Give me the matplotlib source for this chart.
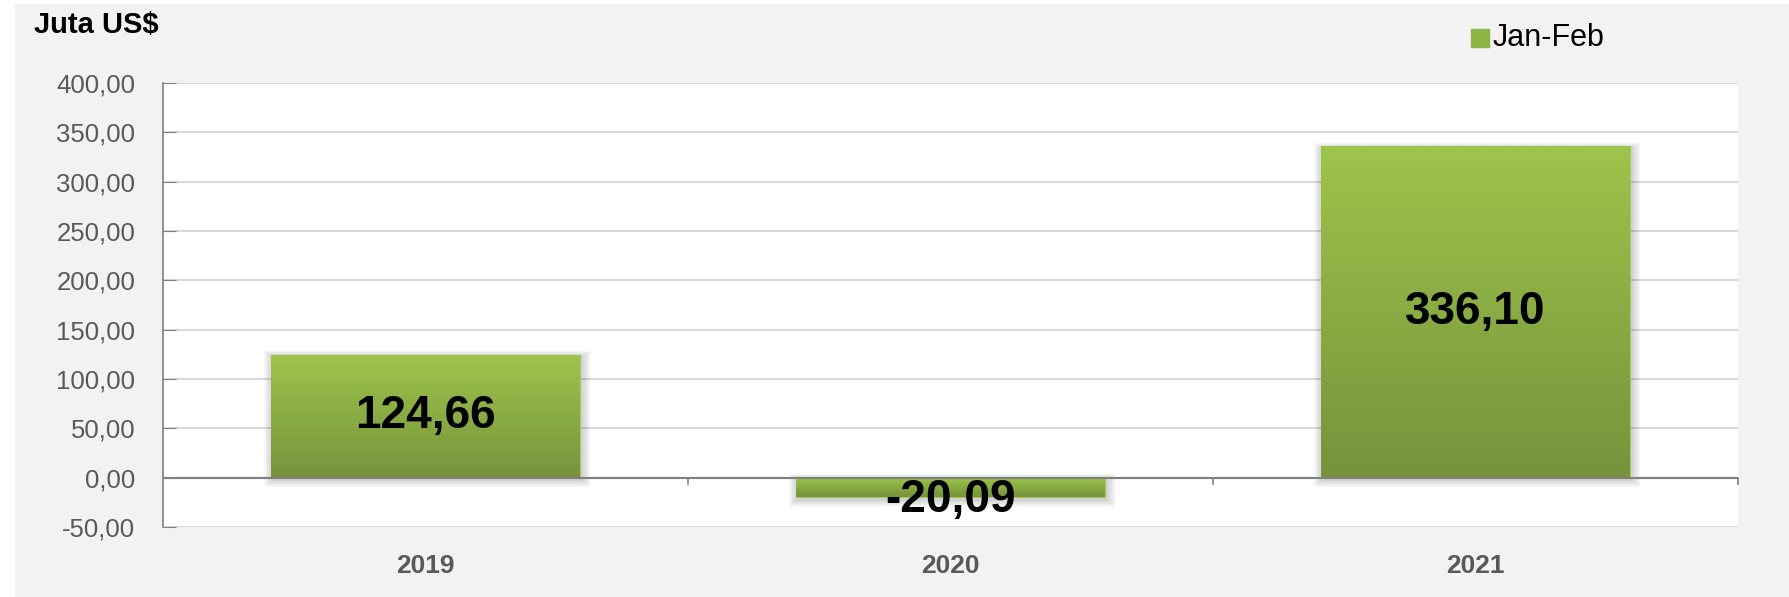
import numpy as np
import matplotlib.pyplot as plt
from matplotlib.patches import Rectangle
from matplotlib.colors import LinearSegmentedColormap

plt.rcParams['font.family'] = ['Liberation Sans', 'DejaVu Sans']

years = ['2019', '2020', '2021']
values = [124.66, -20.09, 336.10]
labels = ['124,66', '-20,09', '336,10']
yticks = [-50, 0, 50, 100, 150, 200, 250, 300, 350, 400]
ytick_labels = ['-50,00', '0,00', '50,00', '100,00', '150,00', '200,00',
                '250,00', '300,00', '350,00', '400,00']

fig = plt.figure(figsize=(17.89, 5.97), dpi=100)
fig.patch.set_facecolor('white')
bg = fig.add_axes([15/1789, 0, 1 - 15/1789, 1 - 4/597], zorder=-5)
bg.axis('off')
bg.add_patch(Rectangle((0, 0), 1, 1, transform=bg.transAxes, color='#f2f2f2', lw=0))

ax = fig.add_axes([163/1789, 70/597, (1738-163)/1789, (527-83)/597])
ax.set_facecolor('white')
x = np.arange(len(years))
w = 0.587

# soft shadow, a few stacked translucent layers
for k in range(5):
    d = 0.0035 * (k + 1)
    for xi, v in zip(x, values):
        ax.add_patch(Rectangle((xi - w/2 - d + 0.003, min(v, 0) - 1.6*(k+1) - 1.5), w + 2*d,
                               abs(v) + 2.6*(k+1), color='black', alpha=0.035, lw=0, zorder=2))

bars = ax.bar(x, values, width=w, color='#8db544', edgecolor='#a5c95a', lw=0.8, zorder=3)

cmap = LinearSegmentedColormap.from_list('g', ['#76933c', '#9dc44b'])
grad = np.linspace(0, 1, 256).reshape(-1, 1)
for b in bars:
    x0, y0 = b.get_x(), b.get_y()
    x1, y1 = x0 + b.get_width(), y0 + b.get_height()
    lo, hi = min(y0, y1), max(y0, y1)
    im = ax.imshow(grad, cmap=cmap, extent=[x0, x1, lo, hi], origin='lower',
                   aspect='auto', zorder=3.5)
    im.set_clip_path(b)

for xi, v, t in zip(x, values, labels):
    ax.text(xi, v/2 if v > 0 else v - 3, t, ha='center', va='center',
            fontsize=33, fontweight='bold', color='black', zorder=5)

ax.set_xlim(-0.5, 2.5)
ax.set_ylim(-50, 400)
ax.set_yticks(yticks)
ax.set_yticklabels(ytick_labels, fontsize=18.5, color='#595959')
ax.grid(axis='y', color='#d9d9d9', lw=1.5, zorder=0)
ax.set_axisbelow(True)
ax.axhline(0, color='#808080', lw=1.5, zorder=4)
ax.set_xticks([])
for xb in [0.5, 1.5, 2.5]:
    ax.plot([xb, xb], [0, -6], color='#808080', lw=1.2, zorder=4, clip_on=False)
for s in ['top', 'right', 'bottom']:
    ax.spines[s].set_visible(False)
ax.spines['left'].set_color('#808080')
ax.spines['left'].set_linewidth(1.2)
ax.tick_params(axis='y', direction='in', length=9, color='#808080', pad=20)

for xi, y in zip(x, years):
    ax.text(xi, -0.06, y, transform=ax.get_xaxis_transform(), ha='center', va='top',
            fontsize=19, fontweight='bold', color='#595959')

fig.text(34/1789, 1 - 25/597, 'Juta US$', fontsize=21, fontweight='bold',
         ha='left', va='center')
fig.patches.append(Rectangle((1471/1789, 1 - 47/597), 18/1789, 18/597,
                             transform=fig.transFigure, color='#8db544', zorder=3))
fig.text(1493/1789, 1 - 38/597, 'Jan-Feb', fontsize=22, ha='left', va='center')

fig.savefig('out.png', dpi=100, facecolor=fig.get_facecolor())
